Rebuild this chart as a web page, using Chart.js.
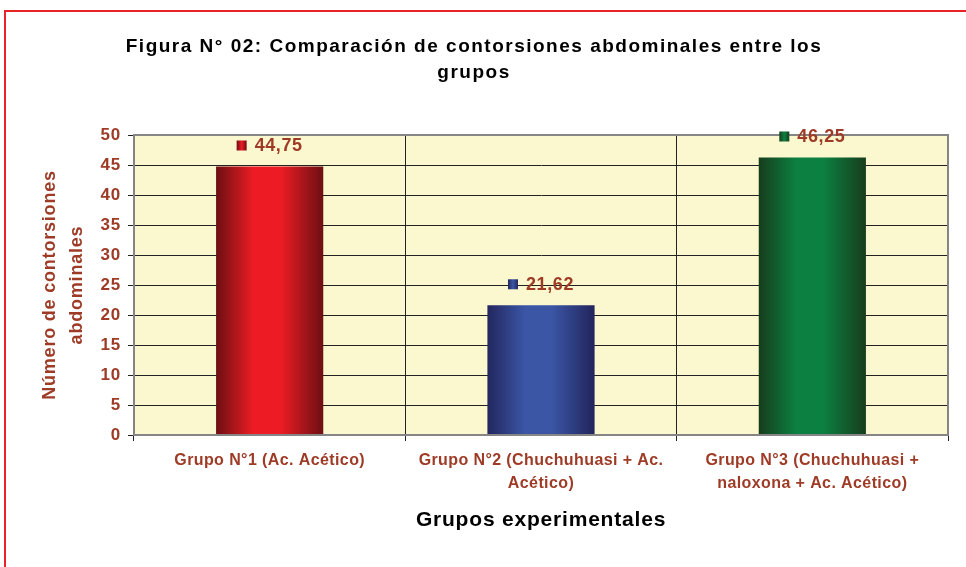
<!DOCTYPE html>
<html><head><meta charset="utf-8">
<script src="https://cdn.jsdelivr.net/npm/chart.js@4.4.1/dist/chart.umd.min.js"></script>
<style>html,body{margin:0;padding:0;background:#fff}#wrap{width:966px;height:567px}</style>
</head><body><div id="wrap"><canvas id="c" width="966" height="567"></canvas></div>
<script>
const categories = [
  "Grupo N°1 (Ac. Acético)",
  ["Grupo N°2 (Chuchuhuasi + Ac.", "Acético)"],
  ["Grupo N°3 (Chuchuhuasi +", "naloxona + Ac. Acético)"]
];
const values = [44.75, 21.62, 46.25];
const valueLabels = ["44,75", "21,62", "46,25"];
const yTicks = [0, 5, 10, 15, 20, 25, 30, 35, 40, 45, 50];
const titleLines = ["Figura N° 02: Comparación de contorsiones abdominales entre los", "grupos"];
const yTitle = ["Número de contorsiones", "abdominales"];
const xTitle = "Grupos experimentales";

const barStops = [
  ["#6C0F13", "#ED1C24", "#ED1C24", "#6C0F13"],
  ["#23265E", "#3A56A5", "#3A56A5", "#22245C"],
  ["#163D1D", "#0C8040", "#0C8040", "#163D1D"]
];
const brown = "#9E3B26";
const FONT = "'Liberation Sans', Arial, sans-serif";
const BAR_PCT = 0.395;

function barGradient(ctx, chart, i) {
  const xs = chart.scales.x;
  if (!xs || xs.width == null) return barStops[i][1];
  const cx = xs.getPixelForValue(i);
  const w = (xs.width / categories.length) * BAR_PCT;
  const g = ctx.createLinearGradient(cx - w / 2, 0, cx + w / 2, 0);
  const s = barStops[i];
  g.addColorStop(0, s[0]);
  g.addColorStop(0.35, s[1]);
  g.addColorStop(0.6, s[2]);
  g.addColorStop(1, s[3]);
  return g;
}

function wrapSpacing(obj, method, spacing) {
  const key = '_wrapped_' + method;
  if (!obj || obj[key]) return;
  const orig = obj[method];
  obj[method] = function () {
    const prev = this.ctx.letterSpacing;
    this.ctx.letterSpacing = spacing;
    orig.apply(this, arguments);
    this.ctx.letterSpacing = prev;
  };
  obj[key] = true;
}

const framePlugin = {
  id: 'frame',
  beforeDraw(chart) {
    const c = chart.ctx, a = chart.chartArea;
    c.fillStyle = '#fff';
    c.fillRect(0, 0, chart.width, chart.height);
    c.strokeStyle = '#E8232B';
    c.lineWidth = 2;
    c.beginPath();
    c.moveTo(5, chart.height + 2);
    c.lineTo(5, 11);
    c.lineTo(chart.width + 2, 11);
    c.stroke();
    c.fillStyle = '#FBF7CE';
    c.fillRect(a.left, a.top, a.right - a.left, a.bottom - a.top);
    c.letterSpacing = '0.8px';
    wrapSpacing(chart.titleBlock, 'draw', '1.5px');
    wrapSpacing(chart.scales.x, 'drawLabels', '0.4px');
  },
  afterDatasetsDraw(chart) {
    const c = chart.ctx, a = chart.chartArea;
    c.save();
    c.strokeStyle = '#858585';
    c.lineWidth = 2;
    c.strokeRect(a.left, a.top, a.right - a.left, a.bottom - a.top);
    const meta = chart.getDatasetMeta(0);
    c.font = "bold 18px " + FONT;
    c.letterSpacing = '0.6px';
    c.textBaseline = 'middle';
    c.textAlign = 'left';
    meta.data.forEach((el, i) => {
      const txt = valueLabels[i];
      const tw = c.measureText(txt).width;
      const sq = 10, gap = 8;
      const total = sq + gap + tw;
      const x0 = el.x - total / 2;
      const y = el.y - 21;
      const g = c.createLinearGradient(x0, 0, x0 + sq, 0);
      const s = barStops[i];
      g.addColorStop(0, s[0]); g.addColorStop(0.5, s[1]); g.addColorStop(1, s[3]);
      c.fillStyle = g;
      c.fillRect(x0, y - 5, sq, sq);
      c.fillStyle = brown;
      c.fillText(txt, x0 + sq + gap, y + 1);
    });
    c.restore();
  }
};

new Chart(document.getElementById('c'), {
  type: 'bar',
  data: {
    labels: categories,
    datasets: [{
      data: values,
      backgroundColor: (ctx) => barGradient(ctx.chart.ctx, ctx.chart, ctx.dataIndex),
      borderWidth: 0,
      barPercentage: BAR_PCT,
      categoryPercentage: 1
    }]
  },
  plugins: [framePlugin],
  options: {
    responsive: false,
    animation: false,
    layout: { padding: { left: 0, right: 18, top: 0, bottom: 0 } },
    plugins: {
      legend: { display: false },
      tooltip: { enabled: false },
      title: {
        display: true,
        text: titleLines,
        color: '#000',
        font: { family: FONT, size: 19, weight: 'bold', lineHeight: 26 / 19 },
        padding: { top: 34, bottom: 49 }
      }
    },
    scales: {
      x: {
        offset: true,
        grid: { display: true, color: '#222', lineWidth: 1, tickLength: 6, offset: true, drawTicks: true },
        border: { display: false },
        ticks: {
          color: brown,
          padding: 8,
          maxRotation: 0,
          autoSkip: false,
          font: { family: FONT, size: 16, weight: 'bold', lineHeight: 23 / 16 }
        },
        title: {
          display: true,
          text: xTitle,
          color: '#000',
          font: { family: FONT, size: 21, weight: 'bold', lineHeight: 1.2 },
          padding: { top: 0, bottom: 34 }
        },
        afterFit: (s) => { s.height = 132; }
      },
      y: {
        min: 0, max: 50,
        afterBuildTicks: (s) => { s.ticks = yTicks.map(v => ({ value: v })); },
        grid: { color: '#222', lineWidth: 1, tickLength: 6 },
        border: { display: true, color: '#222', width: 1 },
        ticks: {
          color: brown,
          padding: 7,
          font: { family: FONT, size: 17, weight: 'bold' }
        },
        title: {
          display: true,
          text: yTitle,
          color: brown,
          font: { family: FONT, size: 18, weight: 'bold', lineHeight: 27 / 18 },
          padding: { top: 37, bottom: 0 }
        },
        afterFit: (s) => { s.width = 134; }
      }
    }
  }
});
</script>
</body></html>
